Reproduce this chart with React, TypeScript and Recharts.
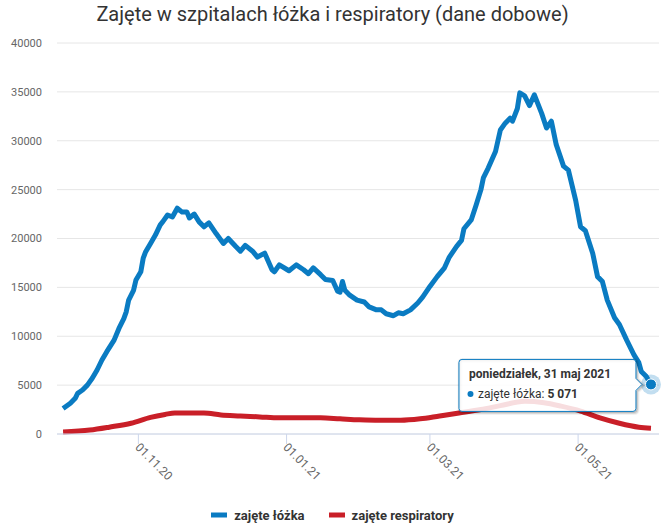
import { CartesianGrid, Line, LineChart, ReferenceDot, XAxis, YAxis } from "recharts";

const title = "Zajęte w szpitalach łóżka i respiratory (dane dobowe)";
const bedsName = "zajęte łóżka";
const ventName = "zajęte respiratory";

// day 0 = 01.10.2020
const bedDays = [
  0, 3, 5, 6, 8, 10, 12, 14, 16, 18, 21, 23, 25, 26, 27, 29, 30, 32, 33, 34, 36, 38, 40, 41, 43, 45, 47, 49,
  51, 52, 54, 56, 58, 60, 63, 66, 68, 71, 73, 75, 78, 80, 83, 86, 87, 89, 93, 96, 99, 101, 103, 106, 108, 111,
  113, 114, 115, 116, 118, 121, 124, 126, 129, 131, 133, 136, 138, 140, 143, 146, 148, 151, 154, 157, 159,
  162, 164, 165, 168, 170, 172, 173, 175, 178, 180, 182, 184, 185, 187, 188, 190, 192, 194, 197, 199, 201,
  203, 206, 208, 211, 213, 215, 218, 220, 222, 224, 227, 229, 232, 235, 237, 238, 240, 242,
];
const bedValues = [
  2600, 3140, 3650, 4160, 4500, 5000, 5700, 6550, 7570, 8420, 9600, 10800, 11800, 12500, 13700, 14700, 15750,
  16600, 18000, 18650, 19500, 20350, 21400, 21700, 22400, 22200, 23100, 22700, 22700, 22100, 22500, 21700,
  21200, 21600, 20500, 19500, 20000, 19200, 18700, 19300, 18700, 18100, 18500, 16800, 16600, 17300, 16700,
  17300, 16800, 16400, 17000, 16300, 15800, 15700, 14600, 14500, 15600, 14700, 14200, 13700, 13500, 13000,
  12700, 12700, 12300, 12100, 12400, 12300, 12700, 13400, 14000, 15100, 16100, 17000, 18100, 19200, 19800,
  21000, 21900, 23400, 25000, 26200, 27200, 28900, 31100, 31800, 32300, 32000, 33300, 34900, 34600, 33600,
  34700, 32800, 31300, 32000, 29600, 27400, 27000, 23900, 21200, 20800, 18500, 16100, 15600, 13700, 11900,
  11200, 9600, 8100, 7300, 6400, 5900, 5071,
];

const ventDays = [
  0, 11, 19, 28, 36, 42, 46, 52, 58, 65, 73, 81, 89, 98, 106, 114, 122, 130, 139, 147, 155, 163, 172, 180, 190,
  198, 205, 213, 221, 229, 237, 242,
];
const ventValues = [
  200, 400, 700, 1100, 1700, 2000, 2150, 2150, 2150, 1950, 1850, 1750, 1650, 1650, 1650, 1550, 1450, 1400,
  1400, 1550, 1850, 2150, 2500, 2900, 3350, 3200, 2850, 2350, 1650, 1100, 700, 600,
];

const tickDays = [31, 92, 151, 212];
const tickLabels = ["01.11.20", "01.01.21", "01.03.21", "01.05.21"];
const yTicks = [0, 5000, 10000, 15000, 20000, 25000, 30000, 35000, 40000];
const tooltipDate = "poniedziałek, 31 maj 2021";

const BLUE = "#0a7bc2";
const RED = "#c91f28";
const FONT = "Roboto, sans-serif";

const bedData = bedDays.map((day, i) => ({ day, value: bedValues[i] }));
const ventData = ventDays.map((day, i) => ({ day, value: ventValues[i] }));
const lastBed = bedData[bedData.length - 1];

const fmt = (v: number) => String(v).replace(/\B(?=(\d{3})+(?!\d))/g, " ");

// drop the default body margin so the title near the top edge is not cut
document.body.style.margin = "0";

function XTick({ x, y, payload }: any) {
  const label = tickLabels[tickDays.indexOf(payload.value)];
  return (
    <g transform={`translate(${x - 4},${y + 2})`}>
      <text transform="rotate(45)" textAnchor="start" fontSize={12} fill="#666" fontFamily={FONT}>
        {label}
      </text>
    </g>
  );
}

function TooltipDot({ cx, cy }: any) {
  const left = cx - 192;
  const right = cx - 15;
  const top = cy - 25;
  const bottom = cy + 27;
  const r = 3;
  const tip = cx - 9;
  const d = `M${left + r},${top} L${right - r},${top} Q${right},${top} ${right},${top + r} L${right},${cy - 6} L${tip},${cy} L${right},${cy + 6} L${right},${bottom - r} Q${right},${bottom} ${right - r},${bottom} L${left + r},${bottom} Q${left},${bottom} ${left},${bottom - r} L${left},${top + r} Q${left},${top} ${left + r},${top} Z`;
  return (
    <g>
      <circle cx={cx} cy={cy} r={10} fill={BLUE} fillOpacity={0.25} />
      <circle cx={cx} cy={cy} r={5.5} fill={BLUE} stroke="#fff" strokeWidth={1} />
      <g transform="translate(1,1)">
        <path d={d} fill="none" stroke="#000" strokeOpacity={0.05} strokeWidth={5} />
        <path d={d} fill="none" stroke="#000" strokeOpacity={0.1} strokeWidth={3} />
        <path d={d} fill="none" stroke="#000" strokeOpacity={0.15} strokeWidth={1} />
      </g>
      <path d={d} fill="#fff" fillOpacity={0.85} stroke={BLUE} strokeWidth={1} />
      <text x={left + 10} y={cy - 6} fontSize={12} fontWeight="bold" fill="#333" fontFamily={FONT}>
        {tooltipDate}
      </text>
      <circle cx={left + 11.5} cy={cy + 9.5} r={3} fill={BLUE} />
      <text x={left + 19} y={cy + 13.5} fontSize={12} fill="#333" fontFamily={FONT}>
        {bedsName}: <tspan fontWeight="bold">{fmt(lastBed.value)}</tspan>
      </text>
    </g>
  );
}

function LegendItem({ color, name }: { color: string; name: string }) {
  return (
    <div style={{ display: "flex", alignItems: "center" }}>
      <svg width={16} height={10} style={{ marginRight: 7 }}>
        <line x1={0} y1={5} x2={16} y2={5} stroke={color} strokeWidth={5} />
      </svg>
      <span style={{ fontSize: 13, fontWeight: "bold", color: "#333" }}>{name}</span>
    </div>
  );
}

export default function App() {
  return (
    <div style={{ position: "relative", width: 665, height: 526, fontFamily: FONT, background: "#fff" }}>
      <div
        style={{
          position: "absolute",
          top: 2,
          left: 0,
          width: 665,
          textAlign: "center",
          fontSize: 20,
          color: "#333",
          lineHeight: "normal",
        }}
      >
        {title}
      </div>
      <LineChart width={665} height={488} margin={{ top: 43, right: 6, bottom: 0, left: 8 }}>
        <CartesianGrid horizontal vertical={false} stroke="#e6e6e6" />
        <XAxis
          dataKey="day"
          type="number"
          domain={[-2.5, 245.3]}
          ticks={tickDays}
          tick={<XTick />}
          tickSize={10}
          tickLine={{ stroke: "#ccd6eb" }}
          axisLine={{ stroke: "#ccd6eb" }}
          height={54}
          allowDataOverflow
          interval={0}
        />
        <YAxis
          type="number"
          domain={[0, 40000]}
          ticks={yTicks}
          width={49}
          axisLine={false}
          tickLine={false}
          tickMargin={9}
          tick={{ fontSize: 11, fill: "#666", fontFamily: FONT }}
          interval={0}
        />
        <Line
          data={ventData}
          dataKey="value"
          name={ventName}
          type="monotone"
          stroke={RED}
          strokeWidth={5}
          dot={false}
          activeDot={false}
          isAnimationActive={false}
        />
        <Line
          data={bedData}
          dataKey="value"
          name={bedsName}
          type="linear"
          stroke={BLUE}
          strokeWidth={5}
          strokeLinejoin="round"
          dot={false}
          activeDot={false}
          isAnimationActive={false}
        />
        <ReferenceDot x={lastBed.day} y={lastBed.value} r={5} shape={(p: any) => <TooltipDot {...p} />} />
      </LineChart>
      <div
        style={{
          position: "absolute",
          top: 505,
          left: 0,
          width: 665,
          height: 20,
          display: "flex",
          justifyContent: "center",
          alignItems: "center",
          gap: 24,
        }}
      >
        <LegendItem color={BLUE} name={bedsName} />
        <LegendItem color={RED} name={ventName} />
      </div>
    </div>
  );
}
